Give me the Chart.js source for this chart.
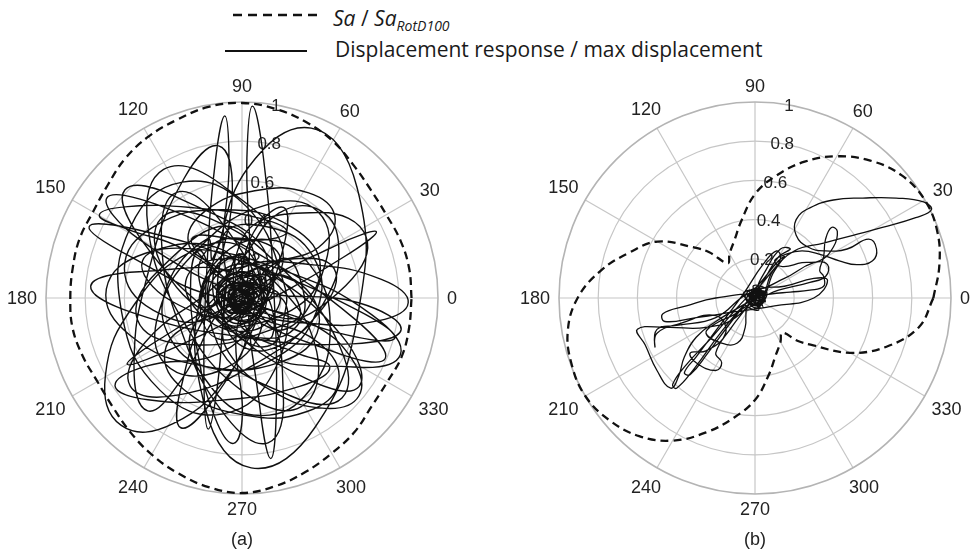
<!DOCTYPE html>
<html>
<head>
<meta charset="utf-8">
<script src="https://cdn.jsdelivr.net/npm/chart.js@4.4.0/dist/chart.umd.min.js"></script>
<style>
  body { margin: 0; background: #fff; width: 971px; height: 558px; position: relative; overflow: hidden; }
  canvas { position: absolute; }
  .txt { position: absolute; font-family: "Open Sans", sans-serif; font-size: 21px; line-height: 1; color: #1a1a1a; white-space: nowrap; }
  .txt sub { font-size: 14px; vertical-align: -5px; line-height: 1; }
</style>
</head>
<body>
<svg style="position:absolute;left:0;top:0" width="971" height="60">
  <line x1="233" y1="15" x2="317" y2="15" stroke="#111" stroke-width="2.4" stroke-dasharray="9 6"/>
  <line x1="225" y1="51" x2="307" y2="51" stroke="#111" stroke-width="2"/>
</svg>
<div class="txt" style="left:333px;top:8px"><i>Sa</i> / <i>Sa<sub>RotD100</sub></i></div>
<div class="txt" style="left:335px;top:39px">Displacement response / max displacement</div>
<canvas id="chartA" width="486" height="490" style="left:0;top:60px"></canvas>
<canvas id="chartB" width="471" height="490" style="left:500px;top:60px"></canvas>
<script>
// сетка полярных осей
const R_TICKS = [0.2, 0.4, 0.6, 0.8, 1];
const R_TICK_LABELS = ["0.2", "0.4", "0.6", "0.8", "1"];
const ANGLE_TICKS = [0, 30, 60, 90, 120, 150, 180, 210, 240, 270, 300, 330];

// Sa / SaRotD100 по направлению (градусы)
const saAnglesA = [0, 10, 20, 30, 40, 50, 60, 70, 80, 90, 100, 110, 120, 130, 140, 150, 160, 170,
  180, 190, 200, 210, 220, 230, 240, 250, 260, 270, 280, 290, 300, 310, 320, 330, 340, 350];
const saRatioA = [0.865, 0.866, 0.86, 0.85, 0.858, 0.885, 0.925, 0.955, 0.98, 0.995, 0.99, 0.968,
  0.952, 0.928, 0.895, 0.878, 0.882, 0.877, 0.876, 0.878, 0.865, 0.852, 0.862, 0.89, 0.922, 0.952, 0.98,
  0.995, 0.975, 0.945, 0.915, 0.893, 0.862, 0.856, 0.868, 0.866];

const saAnglesB = [0, 10, 20, 30, 40, 50, 60, 70, 80, 90, 100, 110, 120, 128, 135, 140, 150, 160, 170,
  180, 190, 200, 210, 220, 230, 240, 250, 260, 270, 280, 290, 300, 308, 315, 320, 330, 340, 350];
const saRatioB = [0.91, 0.955, 0.99, 1.0, 0.975, 0.915, 0.835, 0.74, 0.635, 0.53, 0.40, 0.31, 0.26,
  0.225, 0.33, 0.40, 0.575, 0.68, 0.80, 0.905, 0.97, 0.995, 1.0, 0.97, 0.92, 0.84, 0.73, 0.62, 0.52,
  0.40, 0.31, 0.26, 0.225, 0.31, 0.37, 0.56, 0.72, 0.85];

// траектория перемещений (x, y) / max displacement
const respA = [
  [0.12,0],[0.085,0.057],[0,0.08],[-0.085,0.057],[-0.12,0],[-0.085,-0.057],[0,-0.08],[0.085,-0.057],
  [-0.08,0.127],[-0.066,0.693],[-0.088,0.929],[-0.136,0.697],[-0.18,0.133],[-0.194,-0.433],[-0.172,-0.669],[-0.124,-0.437],[-0.08,0.05],
  [-0.055,0.061],[-0.067,0.021],[-0.063,-0.025],[-0.03,-0.056],[0.015,-0.061],[0.027,-0.021],[0.023,0.025],[-0.01,0.056],
  [0.212,-0.162],[0.425,0.175],[0.389,0.439],[0.125,0.475],[-0.212,0.262],[-0.425,-0.075],[-0.389,-0.339],[-0.125,-0.375],[0.1,-0.15],
  [-0.034,-0.014],[0.528,-0.187],[0.78,-0.204],[0.576,-0.055],[0.034,0.174],[-0.528,0.347],[-0.78,0.364],[-0.576,0.215],[-0.1,0.0],
  [0.071,0.071],[0.025,0.075],[-0.035,0.035],[-0.075,-0.025],[-0.071,-0.071],[-0.025,-0.075],[0.035,-0.035],[0.075,0.025],
  [-0.067,0.07],[-0.105,-0.055],[-0.07,-0.136],[0.019,-0.125],[0.107,-0.03],[0.145,0.095],[0.11,0.176],[0.025,0.165],
  [-0.194,0.07],[-0.187,-0.564],[0.047,-0.867],[0.371,-0.662],[0.594,-0.07],[0.587,0.564],[0.353,0.867],[0.029,0.662],[-0.15,0.2],
  [-0.175,0.303],[-0.381,0.066],[-0.364,-0.21],[-0.133,-0.362],[0.175,-0.303],[0.381,-0.066],[0.364,0.21],[0.133,0.362],[-0.1,0.31],
  [-0.127,-0.227],[0.25,-0.5],[0.51,-0.51],[0.5,-0.25],[0.227,0.127],[-0.15,0.4],[-0.41,0.41],[-0.4,0.15],[-0.1,-0.1],
  [0.027,0.044],[-0.417,-0.208],[-0.586,-0.338],[-0.383,-0.27],[0.073,-0.044],[0.517,0.208],[0.686,0.338],[0.483,0.27],[0.05,0.03],
  [0.098,-0.035],[0.096,0.016],[0.05,0.062],[-0.014,0.079],[-0.058,0.055],[-0.056,0.005],[-0.01,-0.042],[0.054,-0.059],
  [0.16,0.055],[0.034,0.186],[-0.095,0.197],[-0.15,0.08],[-0.1,-0.095],[0.026,-0.226],[0.155,-0.237],[0.21,-0.12],
  [0.214,0.073],[0.019,0.47],[-0.304,0.591],[-0.567,0.366],[-0.614,-0.073],[-0.419,-0.47],[-0.096,-0.591],[0.167,-0.366],[0.2,0.0],
  [-0.1,-0.15],[0.254,-0.062],[0.4,0.15],[0.254,0.362],[-0.1,0.45],[-0.454,0.362],[-0.6,0.15],[-0.454,-0.062],[-0.15,-0.1],
  [0.21,0.2],[-0.113,0.584],[-0.4,0.656],[-0.481,0.372],[-0.31,-0.1],[0.013,-0.484],[0.3,-0.556],[0.381,-0.272],[0.15,0.1],
  [0.04,0.077],[0.091,-0.558],[0.147,-0.819],[0.175,-0.554],[0.16,0.083],[0.109,0.718],[0.053,0.979],[0.025,0.714],[0.03,0.1],
  [-0.04,0.03],[0.05,-0.02],[-0.03,-0.05],[0.06,0.04],[-0.06,0.0],[0.02,0.06],[0.04,-0.05],[-0.05,-0.02],
  [0.282,-0.103],[0.243,0.047],[0.062,0.169],[-0.155,0.193],[-0.282,0.103],[-0.243,-0.047],[-0.062,-0.169],[0.155,-0.193],
  [0.041,0.099],[-0.525,0.134],[-0.772,0.061],[-0.555,-0.076],[-0.001,-0.199],[0.565,-0.234],[0.812,-0.161],[0.595,-0.024],[0.1,0.05],
  [0.191,0.219],[-0.013,0.305],[-0.18,0.243],[-0.213,0.067],[-0.091,-0.119],[0.113,-0.205],[0.28,-0.143],[0.313,0.033],[0.2,0.2],
  [-0.25,-0.15],[-0.147,-0.468],[0.1,-0.6],[0.347,-0.468],[0.45,-0.15],[0.347,0.168],[0.1,0.3],[-0.147,0.168],[-0.2,-0.05],
  [0.129,0.203],[-0.331,0.513],[-0.597,0.552],[-0.513,0.297],[-0.129,-0.103],[0.331,-0.413],[0.597,-0.452],[0.513,-0.197],[0.1,0.15],
  [0.1,0.06],[0.02,0.13],[-0.08,0.1],[-0.13,0.0],[-0.09,-0.1],[0.01,-0.13],[0.1,-0.08],[0.13,0.02],
  [0.135,0.153],[0.39,0.258],[0.474,0.416],[0.34,0.536],[0.065,0.547],[-0.19,0.442],[-0.274,0.284],[-0.14,0.164],[0.0,0.1],
  [0.097,-0.004],[0.016,0.25],[-0.251,0.24],[-0.546,-0.028],[-0.697,-0.396],[-0.616,-0.65],[-0.349,-0.64],[-0.054,-0.372],[0.05,-0.1],
  [0.09,0.09],[-0.02,0.11],[-0.11,0.06],[-0.1,-0.05],[-0.03,-0.11],[0.07,-0.09],[0.11,0.01],
  [-0.046,0.363],[-0.43,0.136],[-0.533,-0.112],[-0.294,-0.236],[0.146,-0.163],[0.53,0.064],[0.633,0.312],[0.394,0.436],[0.0,0.3],
  [0.082,-0.238],[0.567,-0.352],[0.808,-0.289],[0.663,-0.086],[0.218,0.138],[-0.267,0.252],[-0.508,0.189],[-0.363,-0.014],[0.0,-0.1],
  [0.06,0.02],[0.02,0.07],[-0.05,0.05],[-0.07,-0.02],[-0.02,-0.07],[0.05,-0.05],
  [0.025,0.207],[-0.097,0.182],[-0.191,0.051],[-0.203,-0.11],[-0.125,-0.207],[-0.003,-0.182],[0.091,-0.051],[0.103,0.11],
  [-0.05,-0.021],[0.473,-0.276],[0.73,-0.31],[0.571,-0.104],[0.09,0.221],[-0.433,0.476],[-0.69,0.51],[-0.531,0.304],[-0.05,0.05],
  [-0.257,0.3],[0.083,0.294],[0.228,0.338],[0.093,0.406],[-0.243,0.46],[-0.583,0.466],[-0.728,0.422],[-0.593,0.354],[-0.3,0.25],
  [0.107,-0.025],[-0.119,0.405],[-0.333,0.539],[-0.411,0.299],[-0.307,-0.175],[-0.081,-0.605],[0.133,-0.739],[0.211,-0.499],[0.1,-0.05],
  [-0.232,-0.121],[-0.393,-0.272],[-0.294,-0.469],[0.006,-0.596],[0.332,-0.579],[0.493,-0.428],[0.394,-0.231],[0.094,-0.104],[-0.05,-0.05],
  [0.16,0.1],[0.05,0.17],[-0.1,0.14],[-0.17,0.02],[-0.12,-0.12],[0.02,-0.17],[0.15,-0.1],[0.18,0.03],
  [-0.122,0.11],[-0.217,0.242],[-0.262,0.086],[-0.228,-0.267],[-0.138,-0.61],[-0.043,-0.742],[0.002,-0.586],[-0.032,-0.233],[0.0,0.0],
  [-0.017,0.225],[-0.094,-0.057],[0.0,-0.246],[0.212,-0.233],[0.417,-0.025],[0.494,0.257],[0.4,0.446],[0.188,0.433],[0.0,0.2],
  [-0.16,0.041],[-0.495,-0.227],[-0.57,-0.45],[-0.339,-0.497],[0.06,-0.341],[0.395,-0.073],[0.47,0.15],[0.239,0.197],[-0.05,0.1],
  [-0.126,0.053],[-0.049,0.545],[-0.119,0.776],[-0.295,0.611],[-0.474,0.147],[-0.551,-0.345],[-0.481,-0.576],[-0.305,-0.411],[-0.1,-0.05],
  [0.02,-0.03],[-0.05,0.02],[0.06,0.01],[-0.01,-0.06],[-0.04,0.05],[0.05,0.05],[-0.06,-0.04],[0.03,-0.06],[0.0,0.02],
  [-0.098,0.246],[-0.496,0.227],[-0.692,0.046],[-0.57,-0.191],[-0.202,-0.346],[0.196,-0.327],[0.392,-0.146],[0.27,0.091],[0.0,0.1],
  [0.12,0.04],[0.06,0.12],[-0.06,0.12],[-0.13,0.03],[-0.08,-0.08],[0.04,-0.12],[0.12,-0.06],
  [-0.11,-0.28],[-0.494,-0.349],[-0.648,-0.448],[-0.48,-0.519],[-0.09,-0.52],[0.294,-0.451],[0.448,-0.352],[0.28,-0.281],[0.0,-0.15],
  [0.03,-0.02],[-0.02,0.05],[-0.06,-0.01],[0.01,-0.06],[0.06,0.03],[0.0,0.07],[-0.07,0.03],[-0.03,-0.06],[0.05,-0.04],[0.04,0.06],
  [-0.159,-0.049],[-0.312,-0.461],[-0.312,-0.662],[-0.158,-0.533],[0.059,-0.151],[0.212,0.261],[0.212,0.462],[0.058,0.333],[-0.05,0.0],
  [-0.148,0.064],[-0.011,-0.055],[0.337,-0.129],[0.693,-0.117],[0.848,-0.024],[0.711,0.095],[0.363,0.169],[0.007,0.157],[-0.05,0.0],
  [-0.096,-0.1],[-0.066,-0.281],[0.15,-0.473],[0.424,-0.563],[0.596,-0.5],[0.566,-0.319],[0.35,-0.127],[0.076,-0.037],
  [0.03,0.02],[-0.04,0.04],[-0.03,-0.03],[0.04,-0.02],[0.01,0.03]
];

const respB = [
  [0.01,0.0],[0.04,0.02],[-0.02,0.03],[-0.04,-0.01],[0.02,-0.04],[0.05,0.01],[0.0,0.04],[-0.03,-0.03],
  [0.04,-0.02],[0.02,0.05],[-0.05,0.01],[0.01,-0.05],[0.06,0.03],[-0.02,0.02],[0.03,-0.01],
  [0.08,0.12],[0.13,0.2],[0.11,0.24],[0.04,0.17],[-0.06,0.02],[-0.18,-0.14],[-0.3,-0.3],[-0.36,-0.38],
  [-0.33,-0.39],[-0.24,-0.28],[-0.12,-0.12],[0.0,0.03],[0.09,0.14],[0.15,0.21],[0.12,0.19],[0.02,0.07],
  [-0.1,-0.06],[-0.22,-0.2],[-0.35,-0.34],[-0.42,-0.44],[-0.4,-0.46],[-0.31,-0.36],[-0.17,-0.17],[-0.04,-0.02],[0.03,0.02],
  [0.05,-0.02],[-0.03,0.04],[0.02,-0.06],[-0.05,-0.03],[0.06,0.04],[-0.01,0.06],[0.04,-0.05],[-0.06,0.02],[0.03,0.05],
  [0.15,0.06],[0.3,0.1],[0.37,0.09],[0.3,0.0],[0.1,-0.04],[-0.1,-0.07],[-0.3,-0.1],[-0.46,-0.12],
  [-0.47,-0.08],[-0.35,-0.04],[-0.2,0.0],[0.0,0.01],
  [-0.1,-0.08],[-0.2,-0.13],[-0.25,-0.18],[-0.17,-0.23],[-0.09,-0.23],[-0.05,-0.15],[-0.04,-0.05],
  [0.03,0.03],[-0.02,-0.01],[0.04,0.0],
  [0.1,0.14],[0.2,0.24],[0.35,0.28],[0.5,0.32],[0.65,0.36],[0.82,0.41],[0.9,0.45],[0.86,0.49],
  [0.72,0.51],[0.55,0.51],[0.4,0.5],[0.28,0.46],[0.21,0.4],[0.21,0.32],[0.27,0.26],[0.36,0.24],
  [0.47,0.25],[0.58,0.3],[0.62,0.25],[0.6,0.19],[0.52,0.17],[0.43,0.19],[0.34,0.22],[0.24,0.24],
  [0.15,0.22],[0.1,0.19],[0.14,0.16],[0.24,0.18],[0.33,0.19],
  [0.4,0.26],[0.42,0.34],[0.39,0.36],[0.36,0.3],[0.35,0.21],[0.33,0.14],
  [0.35,0.11],[0.35,0.06],[0.28,0.04],[0.18,0.03],[0.08,0.02],[0.0,0.0],
  [0.0,-0.03],[0.05,0.0],[-0.04,-0.05],[0.02,0.03],
  [-0.1,-0.1],[-0.25,-0.15],[-0.45,-0.15],[-0.6,-0.16],[-0.56,-0.24],[-0.5,-0.37],[-0.43,-0.46],
  [-0.39,-0.4],[-0.36,-0.3],[-0.3,-0.2],[-0.2,-0.12],[-0.05,-0.03],[0.02,0.01],[-0.04,0.02],
  [-0.2,-0.1],[-0.4,-0.14],[-0.5,-0.16],[-0.51,-0.25],[-0.5,-0.18],[-0.38,-0.13],[-0.2,-0.09],
  [-0.15,-0.18],[-0.25,-0.27],[-0.33,-0.28],[-0.3,-0.33],[-0.2,-0.37],[-0.17,-0.33],[-0.2,-0.28],[-0.12,-0.15],[-0.03,-0.03],
  [0.05,0.1],[0.12,0.21],[0.18,0.25],[0.13,0.25],[0.06,0.15],[0.02,0.05],
  [0.15,0.1],[0.3,0.18],[0.37,0.17],[0.36,0.11],[0.28,0.08],[0.12,0.04],[0.02,0.0],
  [0.03,0.02],[-0.01,-0.02],[0.04,0.03],[-0.03,0.01],[0.02,-0.03],[0.05,0.02],[0.01,0.04],[-0.02,-0.02],[0.02,0.01]
];

const R_PX = 196; // радиус окружности r = 1 в пикселях

function polarToXY(angles, ratios) {
  const pts = angles.map((a, i) => ({
    x: ratios[i] * Math.cos(a * Math.PI / 180),
    y: ratios[i] * Math.sin(a * Math.PI / 180),
  }));
  pts.push(pts[0]); // замыкаем кривую
  return pts;
}

function pairsToXY(pairs) {
  return pairs.map((p) => ({ x: p[0], y: p[1] }));
}

// Рисуем полярную сетку, подписи углов и радиусов, подпись (a)/(b)
const polarGrid = {
  id: "polarGrid",
  beforeDatasetsDraw(chart, args, opts) {
    const { ctx, scales: { x, y } } = chart;
    const cx = x.getPixelForValue(0);
    const cy = y.getPixelForValue(0);
    const R = x.getPixelForValue(1) - cx;
    ctx.save();
    ctx.strokeStyle = "#c6c6c6";
    ctx.lineWidth = 1.2;
    ANGLE_TICKS.forEach((a) => {
      const t = a * Math.PI / 180;
      ctx.beginPath();
      ctx.moveTo(cx, cy);
      ctx.lineTo(cx + R * Math.cos(t), cy - R * Math.sin(t));
      ctx.stroke();
    });
    R_TICKS.forEach((r) => {
      ctx.beginPath();
      ctx.lineWidth = r === 1 ? 1.6 : 1.2;
      ctx.strokeStyle = r === 1 ? "#b4b4b4" : "#c6c6c6";
      ctx.arc(cx, cy, R * r, 0, Math.PI * 2);
      ctx.stroke();
    });

    ctx.fillStyle = "#222";
    ctx.textAlign = "center";
    ctx.textBaseline = "middle";
    ctx.font = '18px "Liberation Sans", Arial, sans-serif';
    ANGLE_TICKS.forEach((a) => {
      const t = a * Math.PI / 180;
      const label = String(a);
      const w = ctx.measureText(label).width;
      const d = R + 9 + (w / 2) * Math.abs(Math.cos(t)) + 6.5 * Math.abs(Math.sin(t));
      ctx.fillText(label, cx + d * Math.cos(t), cy - d * Math.sin(t) + 1);
    });
    ctx.font = '17px "Liberation Sans", Arial, sans-serif';
    const lt = 80 * Math.PI / 180;
    R_TICKS.forEach((r, i) => {
      ctx.fillText(R_TICK_LABELS[i], cx + R * r * Math.cos(lt), cy - R * r * Math.sin(lt) + 1);
    });
    ctx.restore();
  },
  afterDraw(chart, args, opts) {
    const { ctx, scales: { x, y } } = chart;
    ctx.save();
    ctx.fillStyle = "#222";
    ctx.textAlign = "center";
    ctx.textBaseline = "middle";
    ctx.font = '18px "Liberation Sans", Arial, sans-serif';
    ctx.fillText(opts.caption, x.getPixelForValue(0), y.getPixelForValue(0) + 242);
    ctx.restore();
  },
};

function makePolar(canvasId, caption, cxPage, cyPage, left, top, saData, respData, respWidth) {
  const canvas = document.getElementById(canvasId);
  const w = canvas.width, h = canvas.height;
  return new Chart(canvas, {
    type: "scatter",
    data: {
      datasets: [
        {
          label: "Sa / SaRotD100",
          data: saData,
          showLine: true,
          borderColor: "#111",
          borderWidth: 2.3,
          borderDash: [8, 5],
          tension: 0.4,
          pointRadius: 0,
          fill: false,
        },
        {
          label: "Displacement response / max displacement",
          data: respData,
          showLine: true,
          borderColor: "#101010",
          borderWidth: respWidth,
          borderJoinStyle: "round",
          tension: 0.45,
          pointRadius: 0,
          fill: false,
        },
      ],
    },
    options: {
      responsive: false,
      animation: false,
      devicePixelRatio: 1,
      layout: { padding: 0 },
      plugins: {
        legend: { display: false },
        tooltip: { enabled: false },
        polarGrid: { caption: caption },
      },
      scales: {
        x: { type: "linear", display: false, min: -(cxPage - left) / R_PX, max: (left + w - cxPage) / R_PX },
        y: { type: "linear", display: false, min: -(top + h - cyPage) / R_PX, max: (cyPage - top) / R_PX },
      },
    },
    plugins: [polarGrid],
  });
}

makePolar("chartA", "(a)", 242, 298, 0, 60, polarToXY(saAnglesA, saRatioA), pairsToXY(respA), 1.4);
makePolar("chartB", "(b)", 755, 298, 500, 60, polarToXY(saAnglesB, saRatioB), pairsToXY(respB), 1.3);
</script>
</body>
</html>
